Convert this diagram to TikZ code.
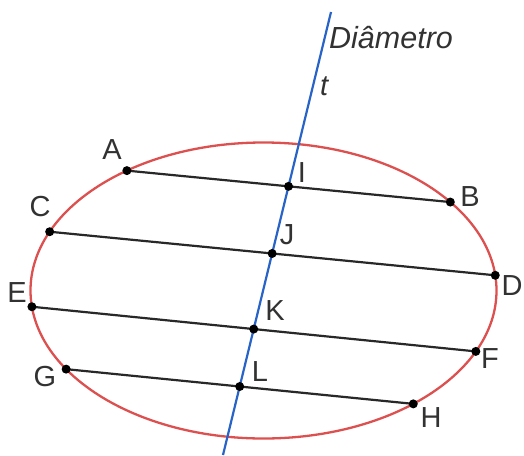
\documentclass[tikz,border=0pt]{standalone}
\usepackage{fontspec}
\setmainfont{Liberation Sans}
\usetikzlibrary{calc}
\definecolor{ellred}{RGB}{221,80,80}
\definecolor{diamblue}{RGB}{40,100,200}
\definecolor{chordgray}{RGB}{40,40,40}
\definecolor{labgray}{RGB}{50,50,50}
\begin{document}
\begin{tikzpicture}[x=1pt,y=-1pt,
  conic/.style={draw=ellred,line width=2.3pt},
  chord/.style={draw=chordgray,line width=2.2pt},
  diam/.style={draw=diamblue,line width=2.2pt},
  pt/.style={circle,fill=black,inner sep=0pt,minimum size=9pt},
  lab/.style={text=labgray,font=\fontsize{29}{29}\selectfont,inner sep=0pt}]
\useasboundingbox (0,0) rectangle (524,455);
\coordinate (O) at (263.5,290.5);
\draw[conic] (O) ellipse [x radius=233, y radius=148];
% points on the ellipse (y axis points down)
\coordinate (A) at ($(O)+({233*cos(125.9)},{-148*sin(125.9)})$);
\coordinate (B) at ($(O)+({233*cos(36.7)},{-148*sin(36.7)})$);
\coordinate (C) at ($(O)+({233*cos(156.6)},{-148*sin(156.6)})$);
\coordinate (D) at ($(O)+({233*cos(5.9)},{-148*sin(5.9)})$);
\coordinate (E) at ($(O)+({233*cos(186.3)},{-148*sin(186.3)})$);
\coordinate (F) at ($(O)+({233*cos(-24.3)},{-148*sin(-24.3)})$);
\coordinate (G) at ($(O)+({233*cos(212.1)},{-148*sin(212.1)})$);
\coordinate (H) at ($(O)+({233*cos(-50.0)},{-148*sin(-50.0)})$);
\coordinate (Ttop) at (331,12);
\coordinate (Tbot) at (223,455);
\draw[chord] (A) -- (B);
\draw[chord] (C) -- (D);
\draw[chord] (E) -- (F);
\draw[chord] (G) -- (H);
\draw[diam] (Ttop) -- (Tbot);
\coordinate (I) at (intersection of A--B and Ttop--Tbot);
\coordinate (J) at (intersection of C--D and Ttop--Tbot);
\coordinate (K) at (intersection of E--F and Ttop--Tbot);
\coordinate (L) at (intersection of G--H and Ttop--Tbot);
\foreach \p in {A,B,C,D,E,F,G,H,I,J,K,L} \node[pt] (dot\p) at (\p) {};
\node[lab] (lA) at (112,150) {A};
\node[lab] (lB) at (470,197) {B};
\node[lab] (lC) at (40,207) {C};
\node[lab] (lD) at (512,286) {D};
\node[lab] (lE) at (17,293) {E};
\node[lab] (lF) at (490,359) {F};
\node[lab] (lG) at (45,377) {G};
\node[lab] (lH) at (431,418) {H};
\node[lab] (lI) at (302,173) {I};
\node[lab] (lJ) at (287,235) {J};
\node[lab] (lK) at (275,311) {K};
\node[lab] (lL) at (260,372) {L};
\node[lab,anchor=base west] (ldiam) at (329,48.3) {\fontsize{30.5}{30.5}\selectfont\itshape Diâmetro};
\node[lab,anchor=base west] (lt) at (320,95) {\itshape t};
\end{tikzpicture}
\end{document}
